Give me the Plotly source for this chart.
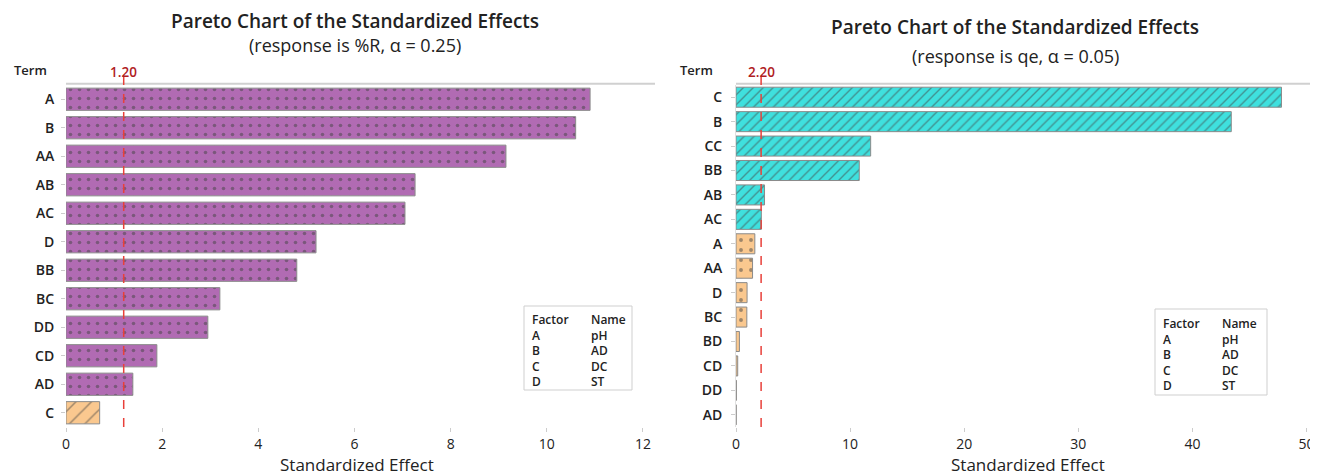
import plotly.graph_objects as go

# ---------------- data ----------------
left_terms = ["A", "B", "AA", "AB", "AC", "D", "BB", "BC", "DD", "CD", "AD", "C"]
left_effects = [10.9, 10.6, 9.15, 7.26, 7.05, 5.2, 4.8, 3.2, 2.95, 1.89, 1.39, 0.7]
left_ref = 1.20

right_terms = ["C", "B", "CC", "BB", "AB", "AC", "A", "AA", "D", "BC", "BD", "CD", "DD", "AD"]
right_effects = [47.8, 43.4, 11.8, 10.8, 2.5, 2.22, 1.65, 1.45, 0.97, 0.95, 0.3, 0.15, 0.03, 0.01]
right_ref = 2.20

factors = ["A", "B", "C", "D"]
factor_names = ["pH", "AD", "DC", "ST"]

left_title = "Pareto Chart of the Standardized Effects"
left_sub = "(response is %R, α = 0.25)"
right_title = "Pareto Chart of the Standardized Effects"
right_sub = "(response is qe, α = 0.05)"
x_title = "Standardized Effect"

left_xticks = [0, 2, 4, 6, 8, 10, 12]
right_xticks = [0, 10, 20, 30, 40, 50]

# ---------------- styling ----------------
PURPLE = "#b16bb3"
CYAN = "#3fe0de"
ORANGE = "#fac88f"
PAT = "#4a4a4a"
FONT = "Open Sans"
OFF = 8                      # page body margin
W, H = 1318 - OFF, 475 - OFF
T = 85 - OFF
B = H - (427 - OFF)
plot_h = H - T - B


def py(p):  # screen pixel y -> paper y
    return (H - B - (p - OFF)) / plot_h


def px(p):  # screen pixel x -> paper x
    return (p - OFF) / W


fig = go.Figure()

# Left chart bars
l_color = [PURPLE if v > left_ref else ORANGE for v in left_effects]
l_shape = ["." if v > left_ref else "/" for v in left_effects]
l_size = [9 if v > left_ref else 11 for v in left_effects]
l_sol = [0.13 if v > left_ref else 0.14 for v in left_effects]
fig.add_trace(go.Bar(
    x=left_effects, y=left_terms, orientation="h", xaxis="x", yaxis="y",
    width=0.78,
    marker=dict(color=l_color,
                line=dict(color="#8a8a8a", width=1),
                pattern=dict(shape=l_shape, fgcolor=[PAT] * len(left_effects),
                             size=l_size, solidity=l_sol, fillmode="overlay")),
    showlegend=False, hoverinfo="x+y",
))

# Right chart bars
r_color = [CYAN if v > right_ref else ORANGE for v in right_effects]
r_shape = ["/" if v > right_ref else "." for v in right_effects]
r_size = [7 if v > right_ref else 10 for v in right_effects]
r_sol = [0.2 if v > right_ref else 0.12 for v in right_effects]
fig.add_trace(go.Bar(
    x=right_effects, y=right_terms, orientation="h", xaxis="x2", yaxis="y2",
    width=0.82,
    marker=dict(color=r_color,
                line=dict(color="#8a8a8a", width=1),
                pattern=dict(shape=r_shape, fgcolor=[PAT] * len(right_effects),
                             size=r_size, solidity=r_sol, fillmode="overlay")),
    showlegend=False, hoverinfo="x+y",
))

axis_common = dict(showgrid=False, zeroline=False, ticks="outside", ticklen=4,
                   tickcolor="#cccccc", automargin=False)
xtickfont = dict(family=FONT, size=14, color="#222")
ytickfont = dict(family=FONT, size=14, color="#222", weight=600)

fig.update_layout(
    width=W, height=H,
    margin=dict(l=0, r=0, t=T, b=B),
    plot_bgcolor="white", paper_bgcolor="white",
    font=dict(family=FONT, color="#222"),
    xaxis=dict(domain=[px(66), px(655)], range=[0, 12.25], tickvals=left_xticks,
               anchor="y", showline=False, tickfont=xtickfont, ticklabeloverflow="allow",
               **axis_common),
    yaxis=dict(domain=[0, 1], anchor="x", type="category", categoryorder="array",
               categoryarray=left_terms, autorange="reversed",
               showline=False, ticklabelstandoff=4, tickfont=ytickfont, **axis_common),
    xaxis2=dict(domain=[px(736), 1.0], range=[0, 51], tickvals=right_xticks,
                anchor="y2", showline=False, tickfont=xtickfont, ticklabeloverflow="allow",
                **axis_common),
    yaxis2=dict(domain=[0, 1], anchor="x2", type="category", categoryorder="array",
                categoryarray=right_terms, autorange="reversed",
                showline=True, linecolor="#e0e0e0", ticklabelstandoff=6,
                tickfont=ytickfont, **axis_common),
)

shapes = []
# top gray lines
shapes.append(dict(type="line", xref="x domain", yref="y domain", x0=0, x1=1, y0=1.004, y1=1.004,
                   line=dict(color="#d0d0d0", width=2)))
shapes.append(dict(type="line", xref="x2 domain", yref="y2 domain", x0=0, x1=1, y0=1.004, y1=1.004,
                   line=dict(color="#d0d0d0", width=2)))
# reference lines
shapes.append(dict(type="line", xref="x", yref="y domain", x0=left_ref, x1=left_ref, y0=0, y1=1.025,
                   line=dict(color="#e8403a", width=1.5, dash="dash")))
shapes.append(dict(type="line", xref="x2", yref="y2 domain", x0=right_ref, x1=right_ref, y0=0, y1=1.025,
                   line=dict(color="#e8403a", width=1.5, dash="dash")))
# factor table boxes
shapes.append(dict(type="rect", xref="paper", yref="paper", x0=px(524), x1=px(632), y0=py(390), y1=py(306),
                   line=dict(color="#cfcfcf", width=1), fillcolor="white", layer="above"))
shapes.append(dict(type="rect", xref="paper", yref="paper", x0=px(1155), x1=px(1267), y0=py(395), y1=py(309),
                   line=dict(color="#cfcfcf", width=1), fillcolor="white", layer="above"))
fig.update_layout(shapes=shapes)

ann = []
# titles
for cx, ty, sy, t, s in [(355, 21, 45, left_title, left_sub), (1015, 27, 56, right_title, right_sub)]:
    ann.append(dict(text=t, x=px(cx), y=py(ty), xref="paper", yref="paper", showarrow=False,
                    xanchor="center", yanchor="middle", font=dict(family=FONT, size=19, color="#222", weight=600)))
    ann.append(dict(text=s, x=px(cx), y=py(sy), xref="paper", yref="paper", showarrow=False,
                    xanchor="center", yanchor="middle", font=dict(family=FONT, size=18, color="#222")))
# axis titles
for cx in [357, 1028]:
    ann.append(dict(text=x_title, x=px(cx), y=py(464), xref="paper", yref="paper", showarrow=False,
                    xanchor="center", yanchor="middle", font=dict(family=FONT, size=17, color="#222", weight=500)))
# Term headers
for tx in [30, 697]:
    ann.append(dict(text="Term", x=px(tx), y=py(70), xref="paper", yref="paper", showarrow=False,
                    xanchor="center", yanchor="middle", font=dict(family=FONT, size=13, color="#222", weight=600)))
# reference labels
ann.append(dict(text=f"{left_ref:.2f}", x=left_ref, xref="x", y=py(72), yref="paper", showarrow=False,
                xanchor="center", yanchor="middle", font=dict(family=FONT, size=13.5, color="#b0201e", weight=600)))
ann.append(dict(text=f"{right_ref:.2f}", x=right_ref, xref="x2", y=py(72), yref="paper", showarrow=False,
                xanchor="center", yanchor="middle", font=dict(family=FONT, size=13.5, color="#b0201e", weight=600)))
# factor tables (one annotation per column)
for bx, by in [(530, 309), (1161, 313)]:
    col1 = "<br>".join(["Factor"] + factors)
    col2 = "<br>".join(["Name"] + factor_names)
    for cx, txt in [(bx, col1), (bx + 59, col2)]:
        ann.append(dict(text=txt, x=px(cx), y=py(by), xref="paper", yref="paper",
                        showarrow=False, xanchor="left", yanchor="top", align="left",
                        font=dict(family=FONT, size=12, color="#222", weight=600)))
fig.update_layout(annotations=ann)

fig.write_html("out.html")
